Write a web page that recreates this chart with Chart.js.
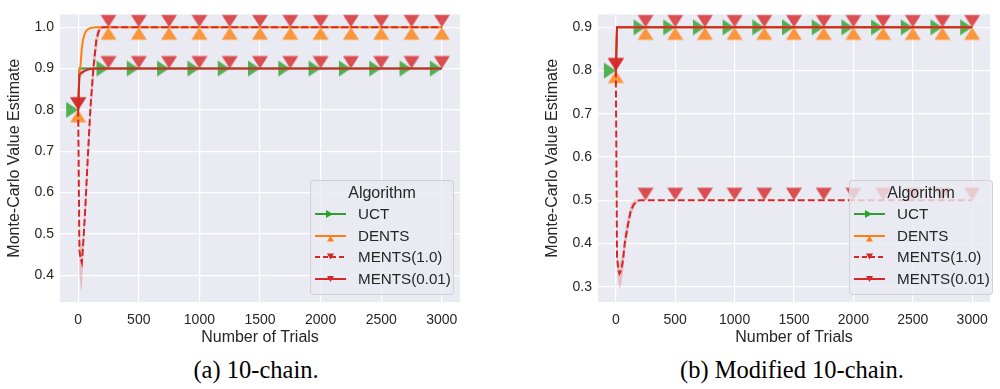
<!DOCTYPE html>
<html>
<head>
<meta charset="utf-8">
<script src="https://cdn.jsdelivr.net/npm/chart.js@4.4.1/dist/chart.umd.min.js"></script>
<style>
  body { margin: 0; width: 1000px; height: 389px; overflow: hidden; position: relative; background: #fff;
         font-family: "Liberation Sans", Arial, sans-serif; color: #262626; }
  .panel { position: absolute; top: 0; height: 352px; }
  .legend { position: absolute; top: 180px; width: 144px; height: 115px; box-sizing: border-box;
            background: rgba(234, 234, 242, 0.8); border: 1px solid rgba(204, 204, 204, 0.8); border-radius: 4px; }
  .legend .ttl { position: absolute; left: 0; width: 100%; top: 3px; text-align: center; font-size: 16px; line-height: 18px; }
  .legend .row { position: absolute; left: 0; width: 100%; height: 16px; }
  .legend .row svg { position: absolute; left: 4px; top: 0; }
  .legend .row span { position: absolute; left: 47px; top: -1px; font-size: 15.2px; line-height: 18px; }
  .caption { position: absolute; top: 356px; font-family: "Liberation Serif", "Times New Roman", serif;
             font-size: 24.5px; line-height: 28px; white-space: nowrap; transform: translateX(-50%); color: #000; }
</style>
</head>
<body>
<div class="panel" style="left:0; width:470px;"><canvas id="chartA" width="470" height="352"></canvas></div>
<div class="panel" style="left:538px; width:462px;"><canvas id="chartB" width="462" height="352"></canvas></div>
<div class="legend" id="legendA" style="left:310px;"></div>
<div class="legend" id="legendB" style="left:849px;"></div>
<div class="caption" style="left:256px;">(a) 10-chain.</div>
<div class="caption" style="left:792px;">(b) Modified 10-chain.</div>
<script>
// x positions of the samples (trials)
const trials = [0, 10, 20, 30, 40, 50, 60, 75, 100, 125, 150, 175, 200,
  250, 500, 750, 1000, 1250, 1500, 1750, 2000, 2250, 2500, 2750, 3000];
const markerTrials = [0, 250, 500, 750, 1000, 1250, 1500, 1750, 2000, 2250, 2500, 2750, 3000];
const xTicks = [0, 500, 1000, 1500, 2000, 2500, 3000];
const yTicksA = [0.4, 0.5, 0.6, 0.7, 0.8, 0.9, 1.0];
const yTicksB = [0.3, 0.4, 0.5, 0.6, 0.7, 0.8, 0.9];
const algorithms = ['UCT', 'DENTS', 'MENTS(1.0)', 'MENTS(0.01)'];

// (a) 10-chain
const uctA = [0.80, 0.90, 0.90, 0.90, 0.90, 0.90, 0.90, 0.90, 0.90, 0.90, 0.90, 0.90, 0.90,
  0.90, 0.90, 0.90, 0.90, 0.90, 0.90, 0.90, 0.90, 0.90, 0.90, 0.90, 0.90];
const dentsA = [0.80, 0.89, 0.91, 0.95, 0.97, 0.98, 0.988, 0.994, 0.998, 0.999, 1.0, 1.0, 1.0,
  1.0, 1.0, 1.0, 1.0, 1.0, 1.0, 1.0, 1.0, 1.0, 1.0, 1.0, 1.0];
const ments1A = [0.80, 0.46, 0.44, 0.43, 0.47, 0.52, 0.57, 0.66, 0.80, 0.90, 0.97, 0.995, 1.0,
  1.0, 1.0, 1.0, 1.0, 1.0, 1.0, 1.0, 1.0, 1.0, 1.0, 1.0, 1.0];
const ments1AHi = [0.80, 0.50, 0.48, 0.47, 0.50, 0.55, 0.60, 0.69, 0.83, 0.93, 0.99, 1.0, 1.0,
  1.0, 1.0, 1.0, 1.0, 1.0, 1.0, 1.0, 1.0, 1.0, 1.0, 1.0, 1.0];
const ments1ALo = [0.80, 0.40, 0.37, 0.36, 0.43, 0.48, 0.53, 0.62, 0.76, 0.86, 0.94, 0.985, 1.0,
  1.0, 1.0, 1.0, 1.0, 1.0, 1.0, 1.0, 1.0, 1.0, 1.0, 1.0, 1.0];
const ments001A = [0.80, 0.885, 0.888, 0.89, 0.892, 0.894, 0.895, 0.897, 0.899, 0.90, 0.90, 0.90, 0.90,
  0.90, 0.90, 0.90, 0.90, 0.90, 0.90, 0.90, 0.90, 0.90, 0.90, 0.90, 0.90];
const ments001AHi = [0.80, 0.89, 0.893, 0.895, 0.897, 0.898, 0.899, 0.90, 0.90, 0.90, 0.90, 0.90, 0.90,
  0.90, 0.90, 0.90, 0.90, 0.90, 0.90, 0.90, 0.90, 0.90, 0.90, 0.90, 0.90];
const ments001ALo = [0.80, 0.875, 0.878, 0.882, 0.886, 0.889, 0.891, 0.894, 0.898, 0.90, 0.90, 0.90, 0.90,
  0.90, 0.90, 0.90, 0.90, 0.90, 0.90, 0.90, 0.90, 0.90, 0.90, 0.90, 0.90];

// (b) Modified 10-chain
const uctB = [0.80, 0.90, 0.90, 0.90, 0.90, 0.90, 0.90, 0.90, 0.90, 0.90, 0.90, 0.90, 0.90,
  0.90, 0.90, 0.90, 0.90, 0.90, 0.90, 0.90, 0.90, 0.90, 0.90, 0.90, 0.90];
const dentsB = [0.80, 0.90, 0.90, 0.90, 0.90, 0.90, 0.90, 0.90, 0.90, 0.90, 0.90, 0.90, 0.90,
  0.90, 0.90, 0.90, 0.90, 0.90, 0.90, 0.90, 0.90, 0.90, 0.90, 0.90, 0.90];
const ments1B = [0.80, 0.37, 0.34, 0.33, 0.335, 0.345, 0.36, 0.40, 0.44, 0.475, 0.49, 0.497, 0.50,
  0.50, 0.50, 0.50, 0.50, 0.50, 0.50, 0.50, 0.50, 0.50, 0.50, 0.50, 0.50];
const ments1BHi = [0.80, 0.40, 0.365, 0.355, 0.36, 0.37, 0.385, 0.425, 0.46, 0.49, 0.50, 0.502, 0.50,
  0.50, 0.50, 0.50, 0.50, 0.50, 0.50, 0.50, 0.50, 0.50, 0.50, 0.50, 0.50];
const ments1BLo = [0.80, 0.34, 0.31, 0.295, 0.30, 0.315, 0.33, 0.375, 0.42, 0.46, 0.48, 0.492, 0.50,
  0.50, 0.50, 0.50, 0.50, 0.50, 0.50, 0.50, 0.50, 0.50, 0.50, 0.50, 0.50];
const ments001B = [0.80, 0.90, 0.90, 0.90, 0.90, 0.90, 0.90, 0.90, 0.90, 0.90, 0.90, 0.90, 0.90,
  0.90, 0.90, 0.90, 0.90, 0.90, 0.90, 0.90, 0.90, 0.90, 0.90, 0.90, 0.90];

const GREEN = '#2ca02c', ORANGE = '#ff7f0e', RED = '#d62728';

// triangle markers with the apex sitting on the data point
function triMarker(dir, color) {
  const c = document.createElement('canvas');
  c.width = 34; c.height = 34;
  const g = c.getContext('2d');
  g.fillStyle = color;
  g.beginPath();
  if (dir === 'down') { g.moveTo(9, 4.5); g.lineTo(25, 4.5); g.lineTo(17, 17); }
  else if (dir === 'up') { g.moveTo(9, 29.5); g.lineTo(25, 29.5); g.lineTo(17, 17); }
  else { g.moveTo(5, 9); g.lineTo(5, 25); g.lineTo(17, 17); }
  g.closePath();
  g.fill();
  return c;
}
const mkRight = triMarker('right', 'rgba(44,160,44,0.8)');
const mkUp = triMarker('up', 'rgba(255,127,14,0.8)');
const mkDown = triMarker('down', 'rgba(214,39,40,0.8)');

const pts = ys => trials.map((x, i) => ({ x: x, y: ys[i] }));
const markerRadius = ctx => (ctx.raw && markerTrials.includes(ctx.raw.x)) ? 8 : 0;

function lineSet(label, ys, color, marker, dashed, order) {
  return {
    label: label, data: pts(ys), borderColor: color, borderWidth: 2, borderDash: dashed ? [7, 3] : [],
    pointStyle: marker, pointRadius: markerRadius, fill: false, tension: 0, order: order
  };
}
function bandSets(hi, lo, color) {
  return [
    { label: 'hi', data: pts(hi), borderWidth: 0, pointRadius: 0, fill: '+1', backgroundColor: color, order: 10 },
    { label: 'lo', data: pts(lo), borderWidth: 0, pointRadius: 0, fill: false, order: 11 }
  ];
}

const bgPlugin = {
  id: 'bg',
  beforeDraw(chart) {
    const a = chart.chartArea, c = chart.ctx;
    c.save(); c.fillStyle = '#eaeaf2'; c.fillRect(a.left, a.top, a.right - a.left, a.bottom - a.top); c.restore();
  }
};

function makeChart(id, datasets, yMin, yMax, yTicks, padRight) {
  return new Chart(document.getElementById(id), {
    type: 'line',
    data: { datasets: datasets },
    plugins: [bgPlugin],
    options: {
      responsive: false, animation: false, events: [],
      layout: { padding: { left: 0, top: 2, right: padRight, bottom: 5 } },
      plugins: { legend: { display: false }, tooltip: { enabled: false } },
      scales: {
        x: {
          type: 'linear', min: -150, max: 3150,
          afterBuildTicks: s => { s.ticks = xTicks.map(v => ({ value: v })); },
          afterFit: s => { s.height = 45; },
          grid: { color: '#ffffff', lineWidth: 1.2, drawTicks: false },
          border: { display: false },
          ticks: { padding: 10, color: '#262626', font: { family: 'Liberation Sans', size: 14 }, callback: v => String(v) },
          title: { display: true, text: 'Number of Trials', color: '#262626', padding: { top: 0, bottom: 0 },
                   font: { family: 'Liberation Sans', size: 16 } }
        },
        y: {
          min: yMin, max: yMax,
          afterBuildTicks: s => { s.ticks = yTicks.map(v => ({ value: v })); },
          afterFit: s => { s.width = 60; },
          grid: { color: '#ffffff', lineWidth: 1.2, drawTicks: false },
          border: { display: false },
          ticks: { padding: 6, color: '#262626', font: { family: 'Liberation Sans', size: 14 }, callback: v => v.toFixed(1) },
          title: { display: true, text: 'Monte-Carlo Value Estimate', color: '#262626', padding: { top: 5, bottom: 0 },
                   font: { family: 'Liberation Sans', size: 16 } }
        }
      }
    }
  });
}

makeChart('chartA', [
  lineSet(algorithms[0], uctA, GREEN, mkRight, false, 4),
  lineSet(algorithms[1], dentsA, ORANGE, mkUp, false, 3),
  lineSet(algorithms[2], ments1A, RED, mkDown, true, 2),
  lineSet(algorithms[3], ments001A, RED, mkDown, false, 1),
  ...bandSets(ments1AHi, ments1ALo, 'rgba(214,39,40,0.22)'),
  ...bandSets(ments001AHi, ments001ALo, 'rgba(214,39,40,0.22)')
], 0.335, 1.031, yTicksA, 7);

makeChart('chartB', [
  lineSet(algorithms[0], uctB, GREEN, mkRight, false, 4),
  lineSet(algorithms[1], dentsB, ORANGE, mkUp, false, 3),
  lineSet(algorithms[2], ments1B, RED, mkDown, true, 2),
  lineSet(algorithms[3], ments001B, RED, mkDown, false, 1),
  ...bandSets(ments1BHi, ments1BLo, 'rgba(214,39,40,0.22)')
], 0.2645, 0.93, yTicksB, 1);

// legends drawn as html so they can sit inside the plot area
const handles = [
  { color: GREEN, dash: '', tri: '11,4 11,12 18,8' },
  { color: ORANGE, dash: '', tri: '12,13.5 19,13.5 15.5,8' },
  { color: RED, dash: '5,3', tri: '12,4.5 19,4.5 15.5,10.5' },
  { color: RED, dash: '', tri: '12,5 19,5 15.5,11' }
];
const rowTops = [25, 46.5, 68, 89.5];
function buildLegend(id) {
  const box = document.getElementById(id);
  let html = '<div class="ttl">Algorithm</div>';
  algorithms.forEach((name, i) => {
    const h = handles[i];
    html += '<div class="row" style="top:' + rowTops[i] + 'px">' +
      '<svg width="32" height="16"><line x1="0" y1="8" x2="31" y2="8" stroke="' + h.color + '" stroke-width="2"' +
      (h.dash ? ' stroke-dasharray="' + h.dash + '"' : '') + '/><polygon points="' + h.tri + '" fill="' + h.color + '"/></svg>' +
      '<span>' + name + '</span></div>';
  });
  box.innerHTML = html;
}
buildLegend('legendA');
buildLegend('legendB');
</script>
</body>
</html>
